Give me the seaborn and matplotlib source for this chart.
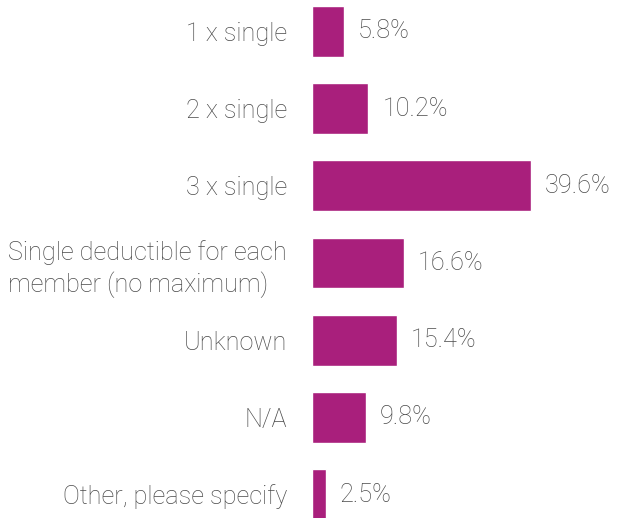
import pandas as pd
from matplotlib import pyplot as plt
import seaborn as sns

# deductible options and share of respondents
categories = ["1 x single", "2 x single", "3 x single",
              "Single deductible for each\nmember (no maximum)",
              "Unknown", "N/A", "Other, please specify"]
shares = [5.8, 10.2, 39.6, 16.6, 15.4, 9.8, 2.5]

df = pd.DataFrame({"option": categories, "share": shares})

sns.set_style("white")
plt.rcParams['font.family'] = ['Roboto', 'DejaVu Sans']

fig = plt.figure(figsize=(6.2, 5.18), dpi=100)
ax = fig.add_axes([312/620, 0, 1 - 312/620, 1])

sns.barplot(data=df, x="share", y="option", orient="h", color="#a91f7c",
            saturation=1, width=0.66, ax=ax)

ax.set_xlim(0, 55.7)
ax.set_ylim(6.304, -0.408)
sns.despine(ax=ax, left=True, bottom=True)
ax.set_xticks([])
ax.set_xlabel("")
ax.set_ylabel("")
ax.tick_params(axis="y", length=0, pad=18)
for lab in ax.get_yticklabels():
    lab.set_fontsize(18.2)
    lab.set_color("#4a4a4a")
    lab.set_fontweight("light")
    lab.set_linespacing(1.3)
    lab.set_multialignment("left")

for i, v in enumerate(shares):
    ax.annotate(f"{v}%", (v, i), xytext=(10, 0), textcoords="offset points",
                va="center", ha="left", fontsize=18.2, color="#4a4a4a",
                fontweight="light")

fig.savefig("out.png", dpi=100)
